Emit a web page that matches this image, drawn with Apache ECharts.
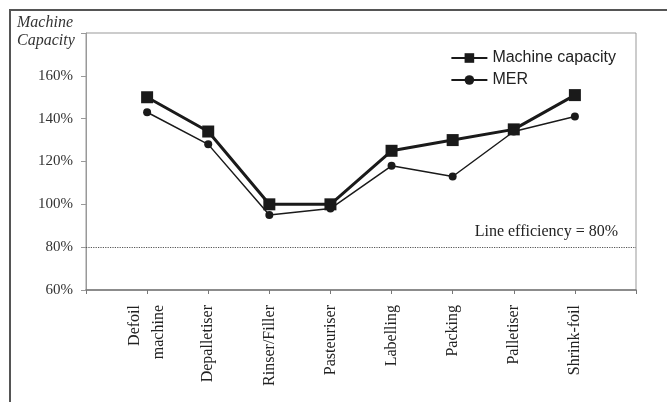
<!DOCTYPE html>
<html>
<head>
<meta charset="utf-8">
<script src="https://cdn.jsdelivr.net/npm/echarts@6/dist/echarts.min.js"></script>
<style>
  html, body { margin: 0; padding: 0; background: #fff; }
  #chart { width: 667px; height: 402px; }
</style>
</head>
<body>
<div id="chart"></div>
<script>
// stations along the line (blank ends give the padding seen in the original)
const categories = ['', 'Defoil\nmachine', 'Depalletiser', 'Rinser/Filler', 'Pasteuriser',
  'Labelling', 'Packing', 'Palletiser', 'Shrink-foil', '']
const machineCapacity = [null, 150, 134, 100, 100, 125, 130, 135, 151, null]
const mer = [null, 143, 128, 95, 98, 118, 113, 134, 141, null]
const lineEfficiency = 80

const serif = '"Liberation Serif", "DejaVu Serif", serif'
const sans = '"Liberation Sans", Arial, sans-serif'

const myChart = echarts.init(document.getElementById('chart'))

myChart.setOption({
  backgroundColor: '#fff',
  animation: false,
  graphic: [
    // outer frame (top + left edges)
    { type: 'line', shape: { x1: 9, y1: 10, x2: 667, y2: 10 }, style: { stroke: '#555', lineWidth: 2 } },
    { type: 'line', shape: { x1: 10, y1: 10, x2: 10, y2: 402 }, style: { stroke: '#555', lineWidth: 2 } },
    {
      type: 'text', left: 17, top: 14,
      style: {
        text: 'Machine\nCapacity',
        font: 'italic 16px ' + serif,
        fill: '#333',
        lineHeight: 18
      }
    }
  ],
  legend: {
    orient: 'vertical',
    right: 46,
    top: 45,
    itemWidth: 36,
    itemHeight: 12,
    itemGap: 6,
    textStyle: { fontFamily: sans, fontSize: 16, color: '#222' },
    data: ['Machine capacity', 'MER']
  },
  grid: {
    left: 86,
    right: 31,
    top: 33,
    bottom: 112,
    show: true,
    borderColor: '#999',
    borderWidth: 1
  },
  xAxis: {
    type: 'category',
    data: categories,
    boundaryGap: false,
    axisLine: { lineStyle: { color: '#777', width: 1.5 } },
    axisTick: { show: true, length: 4, lineStyle: { color: '#777' } },
    axisLabel: {
      rotate: 90,
      interval: 0,
      margin: 15,
      fontFamily: serif,
      fontSize: 16,
      color: '#222',
      lineHeight: 24
    }
  },
  yAxis: {
    type: 'value',
    min: 60,
    max: 180,
    interval: 20,
    splitLine: { show: false },
    axisLine: { show: true, lineStyle: { color: '#999' } },
    axisTick: { show: true, length: 5, lineStyle: { color: '#999' } },
    axisLabel: {
      margin: 13,
      fontFamily: serif,
      fontSize: 15,
      color: '#333',
      formatter: v => (v >= 180 ? '' : v + '%')
    }
  },
  series: [
    {
      name: 'Machine capacity',
      type: 'line',
      data: machineCapacity,
      symbol: 'rect',
      symbolSize: 12,
      lineStyle: { color: '#1a1a1a', width: 3 },
      itemStyle: { color: '#1a1a1a' },
      markLine: {
        silent: true,
        symbol: 'none',
        lineStyle: { type: 'dotted', color: '#555', width: 1.2 },
        label: {
          position: 'insideEndTop',
          formatter: 'Line efficiency = 80%',
          fontFamily: serif,
          fontSize: 16,
          color: '#222',
          distance: [18, 7]
        },
        data: [{ yAxis: lineEfficiency }]
      }
    },
    {
      name: 'MER',
      type: 'line',
      data: mer,
      symbol: 'circle',
      symbolSize: 8,
      lineStyle: { color: '#1a1a1a', width: 1.5 },
      itemStyle: { color: '#1a1a1a' }
    }
  ]
})
</script>
</body>
</html>
